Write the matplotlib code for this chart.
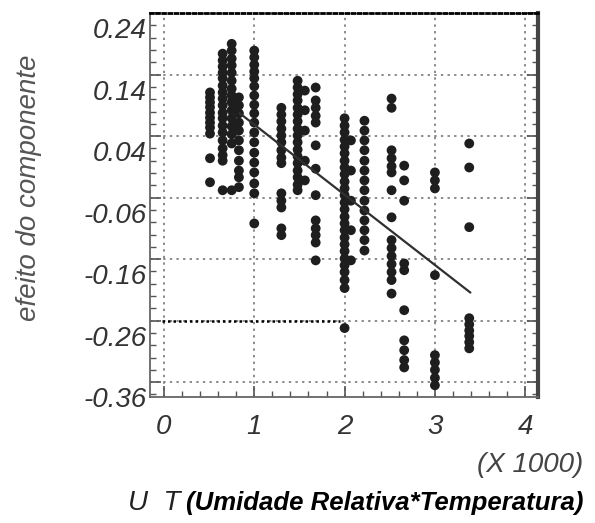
import matplotlib
matplotlib.use('Agg')
import matplotlib.pyplot as plt
import matplotlib.transforms as mtransforms
from matplotlib.ticker import MultipleLocator
import numpy as np

# grupos de pontos (U*T em milhares, efeito do componente)
x_cols = [0.51, 0.65, 0.75, 0.83, 1.0, 1.3, 1.48, 1.56, 1.68,
          2.0, 2.07, 2.22, 2.52, 2.66, 3.0, 3.38]
y_cols = [
    [0.111, 0.103, 0.095, 0.087, 0.078, 0.070, 0.062, 0.054, 0.044, 0.004, -0.035],
    [0.174, 0.163, 0.153, 0.143, 0.134, 0.122, 0.111, 0.101, 0.090, 0.078, 0.069,
     0.057, 0.046, 0.033, 0.020, 0.009, 0.000, -0.048],
    [0.190, 0.179, 0.166, 0.155, 0.143, 0.130, 0.117, 0.106, 0.095, 0.082, 0.069,
     0.056, 0.043, 0.028, -0.048],
    [0.103, 0.090, 0.077, 0.062, 0.049, 0.033, 0.017, 0.000, -0.016, -0.027, -0.043],
    [0.179, 0.168, 0.156, 0.145, 0.134, 0.121, 0.106, 0.091, 0.077, 0.062, 0.046,
     0.030, 0.013, -0.003, -0.019, -0.037, -0.053, -0.102],
    [0.086, 0.075, 0.064, 0.052, 0.041, 0.030, 0.017, 0.005, -0.004, -0.053, -0.065,
     -0.076, -0.110, -0.121],
    [0.130, 0.119, 0.108, 0.098, 0.086, 0.075, 0.064, 0.052, 0.041, 0.030, 0.018,
     0.007, -0.004, -0.016, -0.027, -0.039, -0.048],
    [0.114, 0.082, 0.049, 0.000, -0.032],
    [0.119, 0.098, 0.086, 0.073, 0.062, 0.025, -0.013, -0.056, -0.097, -0.110, -0.121,
     -0.133, -0.162],
    [0.069, 0.057, 0.046, 0.034, 0.023, 0.012, 0.000, -0.011, -0.022, -0.034, -0.045,
     -0.056, -0.068, -0.079, -0.091, -0.102, -0.113, -0.125, -0.136, -0.147, -0.159,
     -0.170, -0.181, -0.194, -0.207, -0.272],
    [0.033, -0.016, -0.065, -0.113, -0.162],
    [0.065, 0.049, 0.033, 0.017, 0.000, -0.016, -0.032, -0.048, -0.065, -0.081, -0.097,
     -0.113, -0.129, -0.146],
    [0.101, 0.086, 0.017, 0.004, -0.009, -0.019, -0.048, -0.092, -0.129, -0.142, -0.155,
     -0.168, -0.181, -0.194, -0.216],
    [-0.008, -0.032, -0.065, -0.167, -0.178, -0.243, -0.292, -0.308, -0.324, -0.336],
    [-0.019, -0.032, -0.045, -0.186, -0.316, -0.328, -0.340, -0.353, -0.365],
    [0.028, -0.011, -0.108, -0.256, -0.266, -0.276, -0.285, -0.295, -0.305],
]

# reta ajustada
line_x = [0.84, 3.39]
line_y = [0.077, -0.214]

yticks = [-0.36, -0.26, -0.16, -0.06, 0.04, 0.14, 0.24]
ytick_labels = ['-0.36', '-0.26', '-0.16', '-0.06', '0.04', '0.14', '0.24']
xticks = [0, 1, 2, 3, 4]

plt.rcParams['font.family'] = ['Liberation Sans', 'DejaVu Sans']

fig = plt.figure(figsize=(5.95, 5.23), dpi=100)
ax = fig.add_axes([0.252, 0.241, 0.652, 0.734])

xs = []
ys = []
for xc, yc in zip(x_cols, y_cols):
    xs += [xc] * len(yc)
    ys += yc
ax.scatter(xs, ys, s=50, color='#1e1e1e', edgecolors='none', zorder=3)
ax.plot(line_x, line_y, color='#303030', lw=1.6, zorder=4)

ax.set_xlim(-0.155, 4.14)
ax.set_ylim(-0.384, 0.24)
ax.set_xticks(xticks)
ax.set_yticks(yticks)
ax.set_yticklabels(ytick_labels)
ax.xaxis.set_minor_locator(MultipleLocator(0.2))
ax.yaxis.set_minor_locator(MultipleLocator(0.02))
ax.grid(True, which='major', color='#8a8a8a', ls=(0, (1.2, 2.2)), lw=1.4)
ax.tick_params(which='both', direction='in', left=True, right=True, bottom=True, top=False,
               color='#555555')
ax.tick_params(which='major', length=8, width=1.2)
ax.tick_params(which='minor', length=4, width=1.0)
ax.tick_params(axis='both', labelsize=20, labelcolor='#333333')
for lab in ax.get_xticklabels() + ax.get_yticklabels():
    lab.set_fontstyle('italic')
ax.tick_params(axis='x', pad=12)
ax.tick_params(axis='y', pad=2)

# rotulos do eixo y aparecem deslocados para baixo na imagem original
off = mtransforms.ScaledTranslation(0, -15 / 100, fig.dpi_scale_trans)
for lab in ax.get_yticklabels():
    lab.set_transform(lab.get_transform() + off)

ax.spines['left'].set_color('#666666')
ax.spines['left'].set_linewidth(1.3)
ax.spines['bottom'].set_color('#666666')
ax.spines['bottom'].set_linewidth(1.3)
ax.spines['right'].set_color('#444444')
ax.spines['right'].set_linewidth(3)
ax.spines['top'].set_color('black')
ax.spines['top'].set_linestyle((0, (1, 1.2)))
ax.spines['top'].set_linewidth(2)
ax.axhline(-0.26, xmin=0.03, xmax=0.49, color='black', ls=(0, (1, 1.2)), lw=1.8, zorder=2)

ax.set_ylabel('efeito do componente', fontsize=20, style='italic', color='#555555')
ax.yaxis.set_label_coords(-0.278, 0.545)

fig.text(0.98, 0.111, '(X 1000)', ha='right', va='center', fontsize=20,
         style='italic', color='#444444')
fig.text(0.215, 0.038, 'U  T', ha='left', va='center', fontsize=20, style='italic',
         color='#222222')
fig.text(0.98, 0.038, '(Umidade Relativa*Temperatura)', ha='right', va='center', fontsize=18.5,
         style='italic', weight='bold', color='black')

fig.savefig('out.png', dpi=100)
